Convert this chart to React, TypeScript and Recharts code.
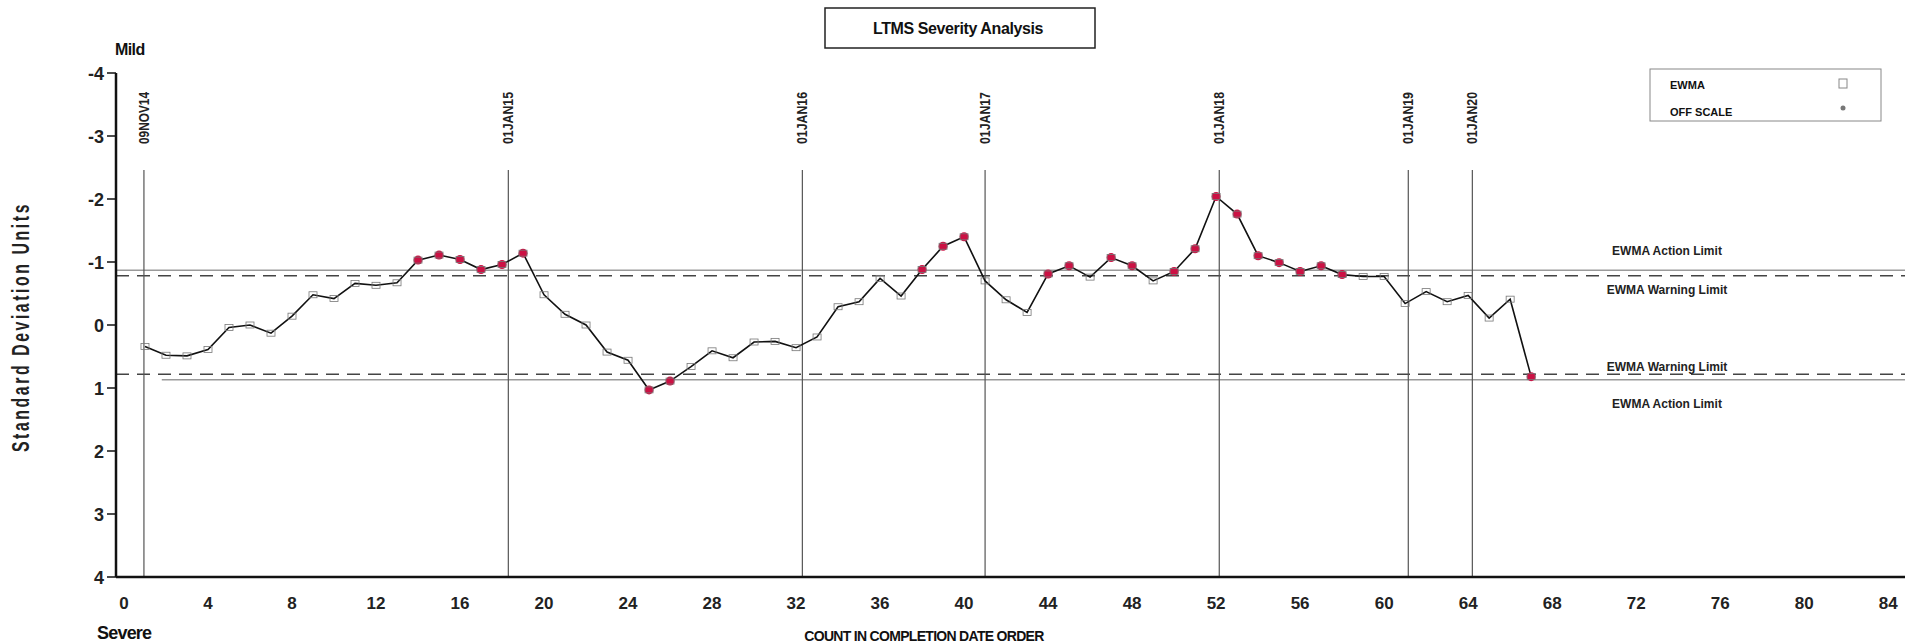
import { LineChart, Line, XAxis, YAxis, ReferenceLine } from 'recharts';

// count in completion date order
const counts = [
  1, 2, 3, 4, 5, 6, 7, 8, 9, 10, 11, 12, 13, 14, 15, 16, 17, 18, 19, 20,
  21, 22, 23, 24, 25, 26, 27, 28, 29, 30, 31, 32, 33, 34, 35, 36, 37, 38, 39, 40,
  41, 42, 43, 44, 45, 46, 47, 48, 49, 50, 51, 52, 53, 54, 55, 56, 57, 58, 59, 60,
  61, 62, 63, 64, 65, 66, 67,
];

// EWMA in standard deviation units (negative = mild)
const ewma = [
  0.34, 0.48, 0.49, 0.39, 0.04, 0.0, 0.13, -0.14, -0.48, -0.42,
  -0.66, -0.63, -0.67, -1.03, -1.11, -1.04, -0.88, -0.96, -1.14, -0.48,
  -0.17, 0.0, 0.43, 0.56, 1.03, 0.89, 0.66, 0.41, 0.52, 0.27,
  0.26, 0.36, 0.19, -0.29, -0.37, -0.74, -0.46, -0.88, -1.25, -1.4,
  -0.7, -0.4, -0.2, -0.81, -0.94, -0.76, -1.07, -0.94, -0.7, -0.85,
  -1.21, -2.04, -1.76, -1.1, -0.99, -0.85, -0.94, -0.8, -0.77, -0.77,
  -0.34, -0.53, -0.37, -0.47, -0.11, -0.41, 0.82,
];

const xTicks = [0, 4, 8, 12, 16, 20, 24, 28, 32, 36, 40, 44, 48, 52, 56, 60, 64, 68, 72, 76, 80, 84];
const yTicks = [-4, -3, -2, -1, 0, 1, 2, 3, 4];

const dateLabels = ['09NOV14', '01JAN15', '01JAN16', '01JAN17', '01JAN18', '01JAN19', '01JAN20'];
const dateCounts = [0.95, 18.3, 32.3, 41, 52.15, 61.15, 64.2];

const warningLimit = 0.78;
const actionLimit = 0.87;

const data = counts.map((c, i) => ({ count: c, ewma: ewma[i] }));

const SANS = "'Liberation Sans', Arial, sans-serif";

function EwmaDot(props: any) {
  const { cx, cy, payload, index } = props;
  if (cx == null || cy == null) return <g key={`e${index}`} />;
  const off = Math.abs(payload.ewma) > warningLimit;
  return (
    <g key={`d${index}`}>
      {off && <circle cx={cx} cy={cy} r={4.5} fill="#cc1144" />}
      <rect x={cx - 4} y={cy - 3} width={8} height={6} fill="none" stroke="#777" strokeWidth={0.8} />
    </g>
  );
}

function XTick({ x, y, payload }: any) {
  return (
    <text x={x} y={y + 30} textAnchor="middle" fontFamily={SANS} fontWeight="bold" fontSize={17} fill="#222">
      {payload.value}
    </text>
  );
}

function YTick({ x, y, payload }: any) {
  return (
    <text x={x - 1} y={y + 6.5} textAnchor="end" fontFamily={SANS} fontWeight="bold" fontSize={18} fill="#222">
      {payload.value}
    </text>
  );
}

const limitLabel = (text: string, dy: number) => (props: any) => {
  const vb = props.viewBox || {};
  return (
    <text
      x={vb.x + vb.width - 238}
      y={vb.y + dy}
      textAnchor="middle"
      dominantBaseline="central"
      fontFamily={SANS}
      fontWeight="bold"
      fontSize={12}
      fill="#222"
    >
      {text}
    </text>
  );
};

const dateLabel = (text: string) => (props: any) => {
  const vb = props.viewBox || {};
  const cx = vb.x;
  const cy = vb.y - 52;
  return (
    <text
      x={cx}
      y={cy}
      transform={`rotate(-90 ${cx} ${cy})`}
      textAnchor="middle"
      dominantBaseline="central"
      fontFamily={SANS}
      fontWeight="bold"
      fontSize={14}
      textLength={52}
      lengthAdjust="spacingAndGlyphs"
      fill="#222"
    >
      {text}
    </text>
  );
};

export default function App() {
  return (
    <div style={{ position: 'absolute', left: 0, top: 0, width: 1907, height: 643, background: '#fff' }}>
      <LineChart width={1907} height={643} data={data} margin={{ top: 73, right: 2, bottom: 0, left: 0 }}>
        <XAxis
          dataKey="count"
          type="number"
          domain={[-0.38, 84.8]}
          ticks={xTicks}
          allowDataOverflow
          height={66}
          tickSize={0}
          tick={<XTick />}
          axisLine={{ stroke: '#111', strokeWidth: 2.5 }}
        />
        <YAxis
          type="number"
          domain={[-4, 4]}
          ticks={yTicks}
          reversed
          width={116}
          tickSize={9}
          tick={<YTick />}
          tickLine={{ stroke: '#111', strokeWidth: 1.5 }}
          axisLine={{ stroke: '#111', strokeWidth: 2.5 }}
        />
        <ReferenceLine y={-actionLimit} stroke="#9a9a9a" strokeWidth={1.5} label={limitLabel('EWMA Action Limit', -19)} />
        <ReferenceLine
          y={-warningLimit}
          stroke="#444"
          strokeWidth={1.5}
          strokeDasharray="13 8"
          label={limitLabel('EWMA Warning Limit', 14)}
        />
        <ReferenceLine
          y={warningLimit}
          stroke="#444"
          strokeWidth={1.5}
          strokeDasharray="13 8"
          label={limitLabel('EWMA Warning Limit', -7)}
        />
        <ReferenceLine
          segment={[{ x: 1.8, y: actionLimit }, { x: 84.8, y: actionLimit }]}
          stroke="#9a9a9a"
          strokeWidth={1.5}
          label={limitLabel('EWMA Action Limit', 24)}
        />
        {dateCounts.map((d, i) => (
          <ReferenceLine
            key={dateLabels[i]}
            segment={[{ x: d, y: -2.46 }, { x: d, y: 4 }]}
            stroke="#555"
            strokeWidth={1.2}
            label={dateLabel(dateLabels[i])}
          />
        ))}
        <Line
          type="linear"
          dataKey="ewma"
          stroke="#111"
          strokeWidth={1.6}
          dot={<EwmaDot />}
          isAnimationActive={false}
        />
      </LineChart>
      <svg width={1907} height={643} style={{ position: 'absolute', left: 0, top: 0, pointerEvents: 'none' }}>
        <rect x={825} y={8} width={270} height={40} fill="none" stroke="#222" strokeWidth={1.5} />
        <text x={958} y={34} textAnchor="middle" fontFamily={SANS} fontWeight="bold" fontSize={16} letterSpacing={-0.4} fill="#111">
          LTMS Severity Analysis
        </text>
        <rect x={1650} y={69} width={231} height={52} fill="none" stroke="#888" strokeWidth={1} />
        <text x={1670} y={89} fontFamily={SANS} fontWeight="bold" fontSize={11} fill="#111">EWMA</text>
        <text x={1670} y={116} fontFamily={SANS} fontWeight="bold" fontSize={11} fill="#111">OFF SCALE</text>
        <rect x={1839} y={79} width={8} height={9} fill="none" stroke="#888" strokeWidth={1} />
        <circle cx={1843} cy={108} r={2.5} fill="#777" />
        <text x={115} y={55} fontFamily={SANS} fontWeight="bold" fontSize={16} letterSpacing={-0.6} fill="#111">Mild</text>
        <text x={97} y={639} fontFamily={SANS} fontWeight="bold" fontSize={18} letterSpacing={-0.8} fill="#111">Severe</text>
        <text x={924} y={641} textAnchor="middle" fontFamily={SANS} fontWeight="bold" fontSize={14} letterSpacing={-0.7} fill="#111">
          COUNT IN COMPLETION DATE ORDER
        </text>
        <text
          x={20}
          y={327}
          transform="rotate(-90 20 327)"
          textAnchor="middle"
          dominantBaseline="central"
          fontFamily={SANS}
          fontWeight="bold"
          fontSize={24}
          textLength={250}
          lengthAdjust="spacingAndGlyphs"
          letterSpacing={4}
          fill="#222"
        >
          Standard Deviation Units
        </text>
      </svg>
    </div>
  );
}
